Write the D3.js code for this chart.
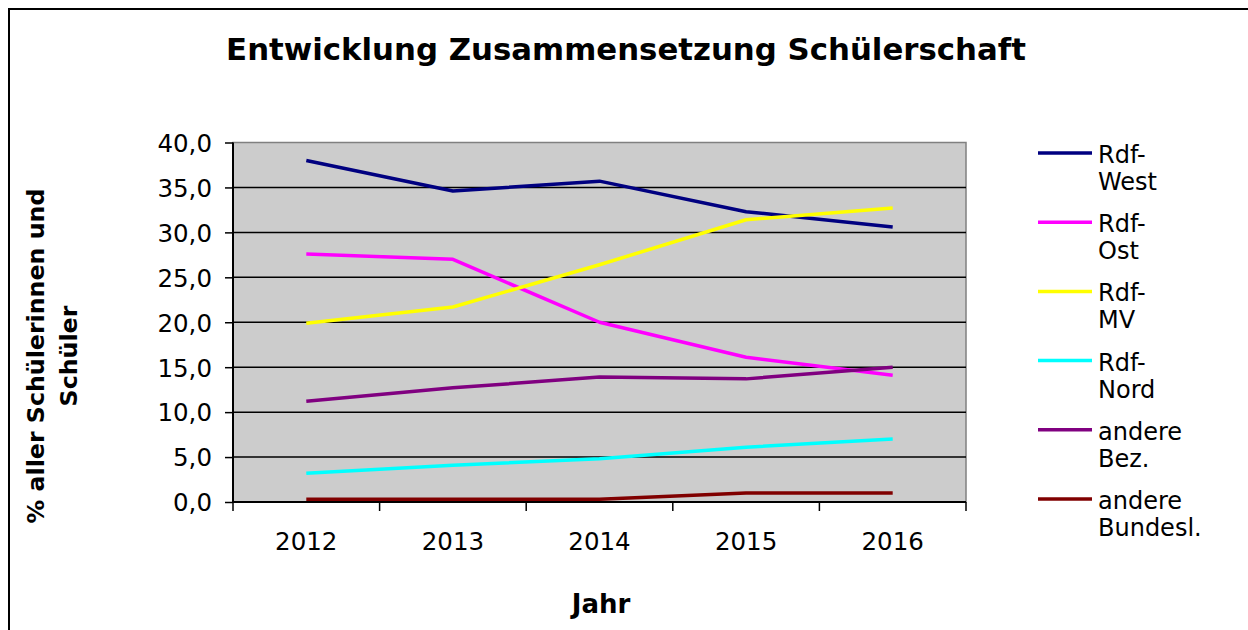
<!DOCTYPE html>
<html>
<head>
<meta charset="utf-8">
<script src="https://cdn.jsdelivr.net/npm/d3@7"></script>
<style>
  body { margin: 0; background: #fff; }
  svg text { font-family: "DejaVu Sans", Verdana, sans-serif; }
</style>
</head>
<body>
<svg width="1248" height="630"></svg>
<script>
var years = ["2012", "2013", "2014", "2015", "2016"];
var rdfWest       = [38.0, 34.6, 35.7, 32.3, 30.6];
var rdfOst        = [27.6, 27.0, 20.0, 16.1, 14.1];
var rdfMV         = [19.9, 21.7, 26.4, 31.4, 32.7];
var rdfNord       = [3.2, 4.1, 4.8, 6.1, 7.0];
var andereBez     = [11.2, 12.7, 13.9, 13.7, 15.0];
var andereBundesl = [0.3, 0.3, 0.3, 1.0, 1.0];
var seriesNames   = [["Rdf-", "West"], ["Rdf-", "Ost"], ["Rdf-", "MV"], ["Rdf-", "Nord"], ["andere", "Bez."], ["andere", "Bundesl."]];
var yTicks        = [0, 5, 10, 15, 20, 25, 30, 35, 40];

var colors = ["#000080", "#ff00ff", "#ffff00", "#00ffff", "#800080", "#800000"];
var allSeries = [rdfWest, rdfOst, rdfMV, rdfNord, andereBez, andereBundesl];

var svg = d3.select("svg");

const plot = { left: 233, right: 966, top: 142.5, bottom: 502 };

// outer frame, runs off the right and bottom edge
svg.append("rect")
    .attr("x", 9).attr("y", 9)
    .attr("width", 1400).attr("height", 800)
    .style("fill", "none")
    .style("stroke", "#000")
    .style("stroke-width", 2);

var x = d3.scaleBand().domain(years).range([plot.left, plot.right]);
var y = d3.scaleLinear().domain([0, 40]).range([plot.bottom, plot.top]);

// plot background
svg.append("rect")
    .attr("x", plot.left).attr("y", plot.top)
    .attr("width", plot.right - plot.left)
    .attr("height", plot.bottom - plot.top)
    .style("fill", "#cccccc")
    .style("stroke", "#808080")
    .style("stroke-width", 1.5);

// gridlines
svg.append("g").selectAll("line")
    .data(yTicks.slice(1, -1))
    .join("line")
        .attr("x1", plot.left).attr("x2", plot.right)
        .attr("y1", d => y(d)).attr("y2", d => y(d))
        .style("stroke", "#000")
        .style("stroke-width", 1.5);

// y axis
var yAxis = svg.append("g")
    .attr("transform", "translate(" + plot.left + ",0)")
    .call(d3.axisLeft(y).tickValues(yTicks).tickSize(8).tickPadding(13)
        .tickFormat(d => d3.format(".1f")(d).replace(".", ",")));
yAxis.select(".domain").style("stroke-width", 2).attr("d", "M0," + plot.top + "V" + plot.bottom);
yAxis.selectAll(".tick line").style("stroke-width", 1.5);
yAxis.selectAll("text").attr("font-size", 24.5).attr("fill", "#000")
    .style("font-family", "DejaVu Sans").attr("dy", "0.36em");

// x axis, ticks sit between categories
var xAxis = svg.append("g")
    .attr("transform", "translate(0," + plot.bottom + ")");
xAxis.append("line")
    .attr("x1", plot.left).attr("x2", plot.right)
    .style("stroke", "#000").style("stroke-width", 2);
var bounds = years.map(d => x(d)).concat([plot.right]);
xAxis.selectAll(".tk").data(bounds).join("line")
    .attr("class", "tk")
    .attr("x1", d => d).attr("x2", d => d)
    .attr("y1", 0).attr("y2", 9)
    .style("stroke", "#000").style("stroke-width", 1.5);
xAxis.selectAll("text").data(years).join("text")
    .attr("x", d => x(d) + x.bandwidth() / 2)
    .attr("y", 48)
    .attr("text-anchor", "middle")
    .attr("font-size", 24.5)
    .text(d => d);

// series lines
var line = d3.line()
    .x((d, i) => x(years[i]) + x.bandwidth() / 2)
    .y(d => y(d));

allSeries.forEach(function (s, i) {
  svg.append("path")
      .attr("d", line(s))
      .style("fill", "none")
      .style("stroke", colors[i])
      .style("stroke-width", 3.5)
      .style("stroke-linejoin", "round");
});

// title, fitted to the reference width
var title = svg.append("text")
    .attr("x", 626).attr("y", 60)
    .attr("text-anchor", "middle")
    .attr("font-size", 28)
    .attr("font-weight", "bold")
    .text("Entwicklung Zusammensetzung Schülerschaft");
title.attr("font-size", 28 * 800 / title.node().getComputedTextLength());

// axis titles
svg.append("text")
    .attr("x", 601).attr("y", 613)
    .attr("text-anchor", "middle")
    .attr("font-size", 26)
    .attr("font-weight", "bold")
    .text("Jahr");

var yt = svg.append("text")
    .attr("transform", "translate(44,356) rotate(-90)")
    .attr("text-anchor", "middle")
    .attr("font-weight", "bold")
    .attr("font-size", 22);
yt.append("tspan").attr("x", 0).attr("y", 0).text("% aller Schülerinnen und");
yt.append("tspan").attr("x", 0).attr("y", 33).text("Schüler");
var t0 = yt.select("tspan").node().getComputedTextLength();
yt.attr("font-size", 22 * 335 / t0);

// legend
var legend = svg.append("g");
seriesNames.forEach(function (n, i) {
  var ly = 153 + i * 69.2;
  legend.append("line")
      .attr("x1", 1038).attr("x2", 1092)
      .attr("y1", ly).attr("y2", ly)
      .style("stroke", colors[i])
      .style("stroke-width", 3.5);
  legend.append("text")
      .attr("x", 1098).attr("y", ly + 10)
      .attr("font-size", 24)
      .text(n[0]);
  legend.append("text")
      .attr("x", 1098).attr("y", ly + 37)
      .attr("font-size", 24)
      .text(n[1]);
});
</script>
</body>
</html>
